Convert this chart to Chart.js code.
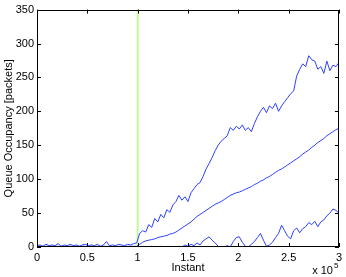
<!DOCTYPE html>
<html>
<head>
<meta charset="utf-8">
<script src="https://cdn.jsdelivr.net/npm/chart.js@4"></script>
<style>
  body { margin: 0; background: #fff; }
  canvas { display: block; }
</style>
</head>
<body>
<canvas id="grafico" width="346" height="277"></canvas>
<script>
// instantes em milhares (x 10^3)
const instants = [
  0,3,6,9,12,15,18,21,24,27,30,33,36,39,42,45,48,51,54,57,
  60,63,66,69,72,75,78,81,84,87,90,93,96,99,
  102,105,108,111,114,117,120,123,126,129,132,135,138,141,144,147,
  150,153,156,159,162,165,168,171,174,177,180,183,186,189,192,195,198,
  201,204,207,210,213,216,219,222,225,228,231,234,237,240,243,246,249,
  252,255,258,261,264,267,270,273,276,279,282,285,288,291,294,297,300
];

// fila mais cheia (ruidosa)
const queueHigh = [
  2,3,1,4,2,3,2,5,1,3,2,4,2,3,1,3,4,2,3,2,
  4,1,3,8,2,3,2,4,3,2,4,3,5,6,
  20,24,22,33,29,42,37,48,43,55,
  51,62,67,76,69,74,67,80,86,92,
  95,104,115,123,132,142,150,156,160,164,
  176,172,178,174,180,172,176,170,182,192,
  200,206,198,208,204,212,200,208,214,220,
  226,230,252,262,270,266,282,276,274,262,
  266,256,274,260,268,266,272
];

// fila media (suave)
const queueMid = [
  1,1,1,1,1,1,1,1,1,1,1,1,1,1,1,1,1,1,1,1,
  1,1,1,1,1,1,1,1,1,1,1,1,1,1,
  4,7,9,10,11,12,14,15,16,17,
  19,20,22,25,28,31,34,37,41,45,
  48,51,54,57,60,63,65,67,70,73,
  76,78,80,81,83,85,87,89,92,94,
  97,99,102,104,107,110,113,115,118,121,
  124,127,130,133,137,140,143,147,150,154,
  157,160,164,167,170,173,175
];

// fila mais baixa (ruidosa)
const queueLow = [
  0,0,0,0,0,0,0,0,0,0,0,0,0,0,0,0,0,0,0,0,
  0,0,0,0,0,0,0,0,0,0,0,0,0,0,
  0,1,0,0,1,0,0,1,0,0,
  1,0,0,1,0,3,1,4,2,6,
  3,9,12,15,10,6,1,0,0,2,
  0,8,14,15,7,1,0,4,8,14,
  20,10,1,3,7,14,20,32,24,16,
  12,24,28,21,27,30,36,33,38,30,
  37,40,46,50,56,54,50
];

const markerInstant = 100;
const xTicks = [0, 50, 100, 150, 200, 250, 300];
const xTickLabels = ['0', '0.5', '1', '1.5', '2', '2.5', '3'];
const yTicks = [0, 50, 100, 150, 200, 250, 300, 350];

const pts = vals => vals.map((v, i) => ({ x: instants[i], y: v }));
const FONT = { family: '"Liberation Sans", Arial, sans-serif', size: 11 };
const BLUE = 'rgb(45,65,255)';

const eixos = {
  id: 'eixos',
  afterDraw(chart) {
    const { ctx, chartArea: a, scales: { x, y } } = chart;
    ctx.save();
    ctx.strokeStyle = '#000';
    ctx.lineWidth = 1;
    ctx.strokeRect(Math.round(a.left) + 0.5, Math.round(a.top) + 0.5,
      Math.round(a.right - a.left) - 1, Math.round(a.bottom - a.top) - 1);
    ctx.beginPath();
    xTicks.forEach(t => {
      const px = Math.round(x.getPixelForValue(t)) + 0.5;
      ctx.moveTo(px, a.bottom); ctx.lineTo(px, a.bottom - 4);
      ctx.moveTo(px, a.top); ctx.lineTo(px, a.top + 4);
    });
    yTicks.forEach(t => {
      const py = Math.round(y.getPixelForValue(t)) + 0.5;
      ctx.moveTo(a.left, py); ctx.lineTo(a.left + 4, py);
      ctx.moveTo(a.right, py); ctx.lineTo(a.right - 4, py);
    });
    ctx.stroke();
    // multiplicador do eixo x
    ctx.fillStyle = '#000';
    ctx.textBaseline = 'alphabetic';
    ctx.textAlign = 'right';
    ctx.font = '11px "Liberation Sans", Arial, sans-serif';
    ctx.fillText('x 10', a.right - 6, 274);
    ctx.textAlign = 'left';
    ctx.font = '8px "Liberation Sans", Arial, sans-serif';
    ctx.fillText('5', a.right - 5, 268);
    ctx.restore();
  }
};

new Chart(document.getElementById('grafico'), {
  type: 'line',
  data: {
    datasets: [
      { data: pts(queueHigh), borderColor: BLUE, borderWidth: 1, pointRadius: 0 },
      { data: pts(queueMid), borderColor: BLUE, borderWidth: 1, pointRadius: 0 },
      { data: pts(queueLow), borderColor: BLUE, borderWidth: 1, pointRadius: 0 },
      {
        data: [{ x: markerInstant, y: 0 }, { x: markerInstant, y: 350 }],
        borderColor: 'rgb(195,248,155)', borderWidth: 2, pointRadius: 0
      }
    ]
  },
  options: {
    responsive: false,
    animation: false,
    layout: { padding: { top: 9, right: 6, left: 0, bottom: 0 } },
    plugins: { legend: { display: false }, tooltip: { enabled: false } },
    scales: {
      x: {
        type: 'linear', min: 0, max: 300,
        afterBuildTicks: s => { s.ticks = xTicks.map(v => ({ value: v })); },
        ticks: {
          color: '#000', font: FONT, padding: 4, maxRotation: 0,
          callback: v => xTickLabels[xTicks.indexOf(v)]
        },
        grid: { display: false, drawTicks: false },
        border: { display: false },
        title: { display: true, text: 'Instant', color: '#000', font: FONT, padding: { top: 0, bottom: 2 } },
        afterFit: s => { s.height = 30; }
      },
      y: {
        min: 0, max: 350,
        afterBuildTicks: s => { s.ticks = yTicks.map(v => ({ value: v })); },
        ticks: { color: '#000', font: FONT, padding: 3 },
        grid: { display: false, drawTicks: false },
        border: { display: false },
        title: { display: true, text: 'Queue Occupancy [packets]', color: '#000', font: FONT, padding: { top: 2, bottom: 0 } },
        afterFit: s => { s.width = 37; }
      }
    }
  },
  plugins: [eixos]
});
</script>
</body>
</html>
